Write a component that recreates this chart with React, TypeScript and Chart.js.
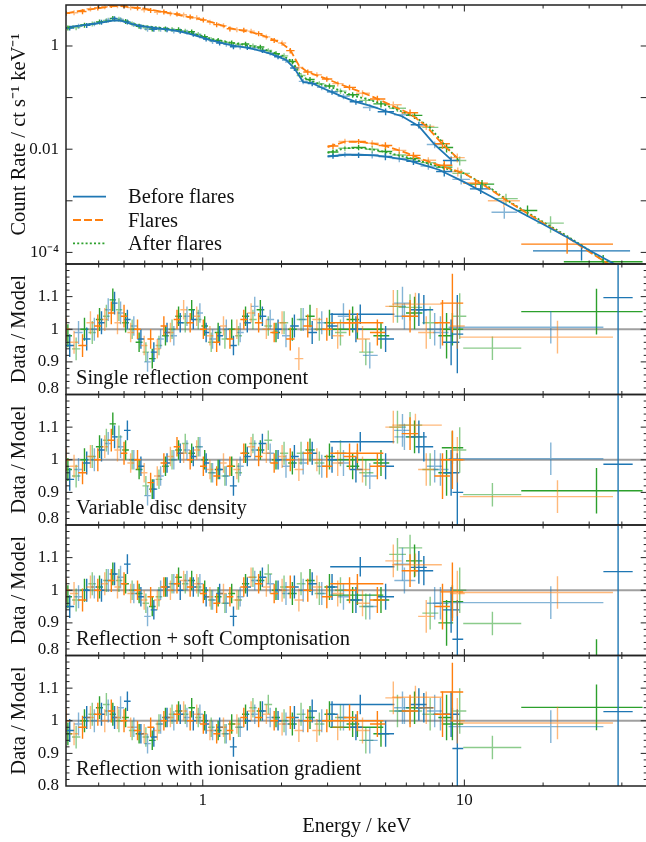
import React, { useEffect, useRef } from "react";
import { Chart, registerables } from "chart.js";
Chart.register(...registerables);

// ---------------- DATA ----------------
// XMM energy grids (keV)
const xmmEnergyBefore = [0.31, 0.335, 0.36, 0.385, 0.41, 0.435, 0.46, 0.485, 0.515, 0.545, 0.58, 0.615, 0.65, 0.69, 0.73, 0.775, 0.82, 0.87, 0.92, 0.975, 1.03, 1.09, 1.16, 1.23, 1.31, 1.39, 1.48, 1.58, 1.69, 1.81, 1.94, 2.08, 2.24, 2.42, 2.62, 2.85, 3.12, 3.45, 3.85, 4.35, 5.0, 5.8, 6.7, 7.7, 8.9];
const xmmEnergyFlares = [0.30, 0.322, 0.347, 0.372, 0.397, 0.422, 0.447, 0.472, 0.50, 0.53, 0.563, 0.597, 0.632, 0.67, 0.71, 0.752, 0.797, 0.845, 0.895, 0.948, 1.005, 1.065, 1.13, 1.2, 1.27, 1.35, 1.435, 1.53, 1.635, 1.75, 1.875, 2.01, 2.16, 2.33, 2.52, 2.73, 2.98, 3.28, 3.64, 4.08, 4.65, 5.35, 6.2, 7.15, 8.25, 9.4];
const xmmEnergyAfter = [0.305, 0.328, 0.353, 0.378, 0.403, 0.428, 0.453, 0.478, 0.507, 0.537, 0.571, 0.606, 0.641, 0.68, 0.72, 0.763, 0.808, 0.857, 0.907, 0.961, 1.017, 1.077, 1.145, 1.215, 1.29, 1.37, 1.457, 1.555, 1.66, 1.78, 1.905, 2.045, 2.2, 2.375, 2.57, 2.79, 3.05, 3.36, 3.74, 4.2, 4.8, 5.55, 6.45, 7.4, 8.55, 9.6];

// XMM model count rates (ct/s/keV)
const xmmModelBefore = [2.35, 2.45, 2.6, 2.7, 2.85, 3.0, 3.15, 3.1, 2.85, 2.6, 2.45, 2.35, 2.27, 2.18, 2.1, 2.0, 1.9, 1.78, 1.65, 1.5, 1.38, 1.27, 1.17, 1.09, 1.02, 0.97, 0.92, 0.86, 0.79, 0.71, 0.62, 0.54, 0.37, 0.2, 0.19, 0.155, 0.128, 0.102, 0.083, 0.07, 0.055, 0.043, 0.028, 0.0123, 0.0063];
const xmmModelFlares = [4.3, 4.6, 4.9, 5.15, 5.4, 5.6, 5.85, 5.95, 5.85, 5.6, 5.45, 5.3, 5.05, 4.8, 4.55, 4.3, 4.05, 3.8, 3.6, 3.4, 3.2, 2.95, 2.7, 2.45, 2.22, 2.08, 1.97, 1.85, 1.7, 1.5, 1.3, 1.12, 0.84, 0.42, 0.31, 0.27, 0.23, 0.19, 0.155, 0.125, 0.095, 0.068, 0.049, 0.028, 0.0125, 0.0068];
const xmmModelAfter = [2.3, 2.42, 2.55, 2.7, 2.85, 3.0, 3.15, 3.15, 2.95, 2.7, 2.52, 2.42, 2.35, 2.27, 2.2, 2.1, 2.0, 1.9, 1.78, 1.63, 1.5, 1.38, 1.3, 1.22, 1.15, 1.1, 1.05, 0.98, 0.9, 0.81, 0.72, 0.63, 0.5, 0.26, 0.215, 0.185, 0.165, 0.135, 0.11, 0.095, 0.077, 0.058, 0.043, 0.026, 0.011, 0.0058];

// XMM data/model ratios: single reflection component
const ratioSingleBefore = [0.95, 0.99, 0.97, 1.0, 1.02, 1.06, 1.08, 1.05, 1.03, 1.01, 0.97, 0.90, 0.93, 0.97, 0.99, 0.98, 1.02, 1.04, 1.03, 1.05, 0.99, 0.97, 0.98, 1.0, 0.95, 0.99, 1.02, 1.07, 1.04, 1.03, 1.0, 0.98, 1.01, 1.03, 0.99, 1.02, 1.01, 1.04, 1.0, 0.92, 0.97, 1.08, 1.06, 1.0, 0.96];
const ratioSingleFlares = [1.0, 0.96, 0.95, 1.02, 1.01, 1.03, 1.05, 1.02, 1.04, 0.99, 1.0, 0.95, 0.97, 0.94, 1.01, 0.99, 1.03, 1.06, 1.02, 1.04, 1.0, 0.98, 0.96, 1.01, 0.97, 1.0, 1.03, 1.05, 1.02, 1.0, 0.99, 1.02, 0.97, 0.91, 1.01, 1.03, 1.0, 0.98, 1.02, 0.97, 0.99, 1.07, 1.04, 0.99, 1.02, 1.01];
const ratioSingleAfter = [0.98, 0.94, 1.0, 0.99, 1.03, 1.04, 1.09, 1.06, 1.02, 1.0, 0.96, 0.93, 0.91, 0.95, 0.98, 1.0, 1.04, 1.02, 1.06, 1.03, 1.01, 0.96, 0.99, 0.97, 1.0, 0.98, 1.04, 1.03, 1.06, 1.01, 0.99, 1.02, 1.0, 1.03, 1.04, 1.0, 1.02, 0.99, 1.03, 0.93, 0.98, 1.07, 1.05, 1.02, 0.98, 1.04];
// variable disc density
const ratioDensityBefore = [0.94, 0.97, 0.99, 1.0, 1.03, 1.05, 1.07, 1.04, 1.09, 1.0, 0.98, 0.89, 0.91, 0.95, 0.99, 1.0, 1.02, 1.03, 1.01, 1.04, 0.99, 0.96, 0.97, 0.95, 0.92, 0.98, 1.01, 1.03, 1.05, 1.02, 1.0, 0.98, 1.01, 0.99, 1.02, 0.98, 1.0, 0.99, 0.97, 0.95, 0.98, 1.09, 1.07, 0.98, 0.96];
const ratioDensityFlares = [1.0, 0.98, 0.96, 1.01, 1.0, 1.04, 1.06, 1.03, 1.02, 0.99, 1.0, 0.96, 0.93, 0.95, 0.99, 1.01, 1.04, 1.02, 1.0, 1.03, 0.98, 0.97, 0.95, 0.99, 0.98, 0.97, 1.02, 1.04, 1.01, 1.02, 0.99, 1.01, 1.0, 0.97, 1.02, 1.0, 0.98, 0.99, 1.01, 0.97, 0.98, 1.1, 1.08, 0.97, 0.95, 1.0];
const ratioDensityAfter = [0.97, 0.95, 1.0, 1.01, 1.04, 1.06, 1.11, 1.07, 1.03, 1.0, 0.97, 0.92, 0.91, 0.94, 0.98, 1.0, 1.03, 1.05, 1.02, 1.04, 1.0, 0.96, 0.97, 0.95, 0.98, 0.96, 1.02, 1.05, 1.03, 1.06, 1.0, 1.02, 0.99, 1.02, 1.03, 0.99, 1.01, 1.02, 0.98, 0.96, 0.99, 1.1, 1.07, 0.97, 0.96, 1.03];
// reflection + soft Comptonisation
const ratioComptBefore = [0.95, 0.98, 1.0, 1.01, 1.0, 1.03, 1.05, 1.04, 1.08, 0.99, 0.98, 0.92, 0.94, 1.0, 1.01, 1.02, 1.0, 1.03, 1.01, 1.02, 0.98, 0.97, 0.99, 0.96, 0.92, 0.98, 1.01, 1.03, 1.04, 1.02, 1.0, 0.99, 1.01, 1.0, 1.02, 0.99, 1.01, 0.98, 0.97, 0.95, 0.98, 1.08, 1.07, 0.96, 0.94];
const ratioComptFlares = [1.0, 0.99, 0.97, 1.01, 1.0, 1.02, 1.03, 1.01, 1.02, 0.99, 1.0, 0.97, 0.98, 0.97, 1.01, 1.0, 1.02, 1.03, 1.01, 1.02, 0.99, 0.98, 0.96, 0.99, 0.98, 0.97, 1.01, 1.04, 1.02, 1.01, 0.99, 1.0, 1.01, 0.97, 1.0, 1.01, 0.98, 0.99, 1.0, 0.96, 0.97, 1.09, 1.06, 0.92, 0.95, 0.99];
const ratioComptAfter = [0.98, 0.97, 1.0, 1.02, 1.01, 1.03, 1.05, 1.03, 1.02, 1.0, 0.99, 0.96, 0.95, 0.98, 1.01, 1.02, 1.04, 1.02, 1.03, 1.01, 1.0, 0.97, 0.98, 0.96, 0.99, 0.97, 1.02, 1.04, 1.03, 1.05, 1.0, 1.01, 0.99, 1.02, 1.03, 0.99, 1.01, 1.0, 0.97, 0.95, 0.97, 1.11, 1.09, 0.93, 0.9, 1.0];
// reflection with ionisation gradient
const ratioGradBefore = [0.97, 0.99, 1.01, 1.0, 1.02, 1.03, 1.01, 1.04, 1.06, 0.98, 0.96, 0.93, 0.95, 0.99, 1.01, 1.0, 1.02, 1.01, 1.0, 1.02, 0.99, 0.97, 0.98, 0.96, 0.92, 0.98, 1.0, 1.02, 1.03, 1.01, 1.0, 0.99, 1.01, 1.0, 1.03, 1.0, 1.02, 1.01, 0.98, 0.94, 0.96, 1.04, 1.05, 1.03, 1.02];
const ratioGradFlares = [1.0, 0.96, 0.98, 1.01, 1.02, 1.0, 1.03, 1.01, 1.0, 0.98, 0.97, 0.96, 0.98, 0.97, 1.0, 1.01, 1.02, 1.03, 1.0, 1.02, 0.99, 0.97, 0.96, 0.98, 0.97, 0.99, 1.01, 1.03, 1.01, 1.02, 1.0, 0.99, 1.01, 0.97, 1.0, 0.97, 1.0, 0.98, 1.01, 0.97, 0.99, 1.07, 1.03, 1.04, 1.02, 1.0];
const ratioGradAfter = [0.96, 0.95, 1.0, 1.02, 1.04, 1.05, 1.02, 1.0, 1.01, 0.97, 0.96, 0.95, 0.94, 0.99, 1.01, 1.02, 1.03, 1.02, 1.04, 1.01, 1.0, 0.98, 0.97, 0.96, 0.99, 0.98, 1.02, 1.04, 1.03, 1.05, 1.01, 1.0, 0.99, 1.02, 1.01, 0.99, 1.02, 1.01, 0.99, 0.94, 0.96, 1.03, 1.04, 1.02, 1.01, 1.03];

// fractional errors by energy band
const ratioErrBandTop = [0.5, 1, 2, 3, 5, 8, 12];
const ratioErrBand = [0.035, 0.03, 0.03, 0.035, 0.04, 0.05, 0.07];
const countErrBandTop = [1, 2, 4, 8, 12, 20, 60];
const countErrBand = [0.11, 0.11, 0.12, 0.15, 0.2, 0.25, 0.35];

// NuSTAR bins in the ratio panels (lo, centre, hi in keV), errors, and ratios per model
const nuLoBefore = [3.07, 5.4, 6.5, 7.6, 9.0, 8.7, 34];
const nuMidBefore = [4.0, 5.9, 7.0, 8.1, 9.4, 21.4, 38.7];
const nuHiBefore = [5.4, 6.5, 7.6, 8.7, 9.9, 34, 44];
const nuErrBefore = [0.03, 0.04, 0.045, 0.05, 0.12, 0.05, 0.6];
const nuSingleBefore = [1.046, 1.04, 1.06, 0.99, 0.985, 1.006, 1.097];
const nuDensityBefore = [1.055, 1.07, 1.04, 0.97, 0.9, 1.003, 0.986];
const nuComptBefore = [1.072, 1.03, 1.06, 0.96, 0.85, 0.962, 1.057];
const nuGradBefore = [1.05, 1.03, 1.04, 1.02, 0.915, 0.982, 1.028];

const nuLoFlares = [3.07, 5.3, 8.1, 9.6];
const nuMidFlares = [3.9, 6.5, 9.0, 22.7];
const nuHiFlares = [4.9, 8.2, 9.9, 37];
const nuErrFlares = [0.03, 0.035, 0.09, 0.05];
const nuSingleFlares = [1.02, 1.077, 1.08, 0.976];
const nuDensityFlares = [1.02, 1.106, 1.0, 0.887];
const nuComptFlares = [1.02, 1.078, 0.995, 0.993];
const nuGradFlares = [1.0, 1.072, 1.088, 0.993];

const nuLoAfter = [3.07, 5.6, 8.2, 9.9, 16.5];
const nuMidAfter = [3.9, 6.2, 9.0, 12.8, 32];
const nuHiAfter = [4.9, 6.9, 9.9, 16.5, 48];
const nuErrAfter = [0.03, 0.04, 0.05, 0.036, 0.07];
const nuSingleAfter = [1.0, 1.067, 1.0, 0.942, 1.054];
const nuDensityAfter = [1.0, 1.106, 1.037, 0.893, 0.905];
const nuComptAfter = [0.985, 1.13, 0.965, 0.898, 0.78];
const nuGradAfter = [0.98, 1.03, 0.99, 0.918, 1.041];

// NuSTAR spectra in the top panel (bin lo, hi in keV; count rate)
const nuTopLoBefore = [3.0, 3.3, 3.7, 4.2, 4.7, 5.3, 6.0, 6.8, 7.8, 9.0, 10.5, 12.7, 18.3];
const nuTopHiBefore = [3.3, 3.7, 4.2, 4.7, 5.3, 6.0, 6.8, 7.8, 9.0, 10.5, 12.7, 15.9, 43];
const nuTopRateBefore = [0.0074, 0.0079, 0.0077, 0.0078, 0.0072, 0.0066, 0.0058, 0.0047, 0.0037, 0.0026, 0.0017, 0.0006, 0.000107];
const nuTopLoFlares = [3.0, 3.3, 3.7, 4.2, 4.7, 5.3, 6.0, 6.8, 7.8, 9.0, 9.9, 12.3, 16.5];
const nuTopHiFlares = [3.3, 3.7, 4.2, 4.7, 5.3, 6.0, 6.8, 7.8, 9.0, 9.9, 12.3, 16.3, 37];
const nuTopRateFlares = [0.0115, 0.0142, 0.0141, 0.013, 0.0118, 0.0095, 0.0076, 0.0061, 0.0049, 0.0037, 0.0022, 0.001, 0.000145];
const nuTopLoAfter = [3.0, 3.3, 3.7, 4.2, 4.7, 5.3, 6.0, 6.8, 7.8, 9.0, 10.5, 13, 16, 19, 24];
const nuTopHiAfter = [3.3, 3.7, 4.2, 4.7, 5.3, 6.0, 6.8, 7.8, 9.0, 10.5, 13, 16, 19, 24, 48];
const nuTopRateAfter = [0.0088, 0.0104, 0.0108, 0.01, 0.009, 0.0077, 0.0066, 0.0055, 0.0045, 0.0034, 0.0021, 0.0011, 0.00065, 0.00037, 0.000066];

// NuSTAR model curves
const nuModelEnergy = [3.0, 3.5, 4.0, 4.5, 5.0, 6.0, 7.0, 8.0, 10, 12.5, 15, 20, 25, 30, 35, 40];
const nuModelBefore = [0.0072, 0.0078, 0.0078, 0.0076, 0.0072, 0.0062, 0.0049, 0.004, 0.0023, 0.00125, 0.00076, 0.00035, 0.00019, 0.00011, 0.000072, 0.00005];
const nuModelFlares = [0.011, 0.014, 0.0138, 0.0128, 0.0115, 0.0085, 0.0062, 0.0049, 0.0034, 0.0017, 0.00091, 0.00037, 0.00019, 0.000103, 0.000063, 0.00004];
const nuModelAfter = [0.0085, 0.0105, 0.0106, 0.0098, 0.0088, 0.007, 0.0056, 0.0046, 0.0034, 0.0018, 0.00093, 0.00039, 0.0002, 0.00011, 0.000062, 0.00004];

// axes ticks / labels
const energyTicks = [1, 10];
const energyTickLabels = ["1", "10"];
const energyMinorTicks = [0.4, 0.5, 0.6, 0.7, 0.8, 0.9, 2, 3, 4, 5, 6, 7, 8, 9, 20, 30, 40];
const countTicks = [1e-4, 1e-3, 1e-2, 1e-1, 1];
const countTickLabels = ["10⁻⁴", "", "0.01", "", "1"];
const ratioTicks = [0.8, 0.9, 1.0, 1.1, 1.2];
const ratioTickLabels = ["0.8", "0.9", "1", "1.1", ""];
const legendLabels = ["Before flares", "Flares", "After flares"];
const panelLabels = ["Single reflection component", "Variable disc density", "Reflection + soft Comptonisation", "Reflection with ionisation gradient"];

// ---------------- STYLE / LAYOUT ----------------
const CANVAS_W = 648;
const CANVAS_H = 842;
const AREA_LEFT = 66;
const AREA_RIGHT = 647.2;
const PANEL_TOP = [5, 264, 394.5, 525, 655.5];
const PANEL_BOTTOM = [264, 394.5, 525, 655.5, 786];
const FONT = '"Liberation Serif", "Times New Roman", Times, serif';
const TEXT = "#111";
const FRAME = "#222";
const LABEL_SIZE = 20.5;

const series = [
  {
    color: "#1f77b4", light: "rgba(31,119,180,0.55)", dash: [] as number[],
    xmmE: xmmEnergyBefore, xmmModel: xmmModelBefore,
    ratios: [ratioSingleBefore, ratioDensityBefore, ratioComptBefore, ratioGradBefore],
    nuLo: nuLoBefore, nuMid: nuMidBefore, nuHi: nuHiBefore, nuErr: nuErrBefore,
    nuRatios: [nuSingleBefore, nuDensityBefore, nuComptBefore, nuGradBefore],
    topLo: nuTopLoBefore, topHi: nuTopHiBefore, topRate: nuTopRateBefore, nuModel: nuModelBefore,
  },
  {
    color: "#ff7f0e", light: "rgba(255,127,14,0.55)", dash: [8, 3],
    xmmE: xmmEnergyFlares, xmmModel: xmmModelFlares,
    ratios: [ratioSingleFlares, ratioDensityFlares, ratioComptFlares, ratioGradFlares],
    nuLo: nuLoFlares, nuMid: nuMidFlares, nuHi: nuHiFlares, nuErr: nuErrFlares,
    nuRatios: [nuSingleFlares, nuDensityFlares, nuComptFlares, nuGradFlares],
    topLo: nuTopLoFlares, topHi: nuTopHiFlares, topRate: nuTopRateFlares, nuModel: nuModelFlares,
  },
  {
    color: "#2ca02c", light: "rgba(44,160,44,0.55)", dash: [2, 2.2],
    xmmE: xmmEnergyAfter, xmmModel: xmmModelAfter,
    ratios: [ratioSingleAfter, ratioDensityAfter, ratioComptAfter, ratioGradAfter],
    nuLo: nuLoAfter, nuMid: nuMidAfter, nuHi: nuHiAfter, nuErr: nuErrAfter,
    nuRatios: [nuSingleAfter, nuDensityAfter, nuComptAfter, nuGradAfter],
    topLo: nuTopLoAfter, topHi: nuTopHiAfter, topRate: nuTopRateAfter, nuModel: nuModelAfter,
  },
];

type Pt = { x: number; y: number; xl: number; xh: number; yl: number; yh: number; light: boolean };

function bandErr(e: number, edges: number[], values: number[]) {
  for (let i = 0; i < edges.length; i++) if (e <= edges[i]) return values[i];
  return values[values.length - 1];
}

function binEdges(E: number[]) {
  return E.map((e, i) => {
    const prev = i > 0 ? E[i - 1] : (e * e) / E[i + 1];
    const next = i < E.length - 1 ? E[i + 1] : (e * e) / E[i - 1];
    return [Math.sqrt(prev * e), Math.sqrt(e * next)];
  });
}

function topDatasets() {
  const models: any[] = [];
  const data: any[] = [];
  series.forEach((s) => {
    models.push({
      data: s.xmmE.map((e, i) => ({ x: e, y: s.xmmModel[i] })),
      showLine: true, pointRadius: 0, borderColor: s.color, borderWidth: 1.8, borderDash: s.dash,
    });
    models.push({
      data: nuModelEnergy.map((e, i) => ({ x: e, y: s.nuModel[i] })),
      showLine: true, pointRadius: 0, borderColor: s.color, borderWidth: 1.8, borderDash: s.dash,
    });
  });
  const order = [1, 0, 2];
  order.forEach((k) => {
    const s = series[k];
    const edges = binEdges(s.xmmE);
    const pts: Pt[] = [];
    s.xmmE.forEach((e, i) => {
      const y = s.xmmModel[i] * s.ratios[0][i];
      const f = bandErr(e, countErrBandTop, countErrBand);
      pts.push({ x: e, y, xl: edges[i][0], xh: edges[i][1], yl: y * (1 - f), yh: y * (1 + f), light: i % 2 === 1 });
    });
    s.topLo.forEach((lo, i) => {
      const hi = s.topHi[i];
      const e = Math.sqrt(lo * hi);
      const y = s.topRate[i];
      const f = bandErr(e, countErrBandTop, countErrBand);
      pts.push({ x: e, y, xl: lo, xh: hi, yl: y * (1 - f), yh: y * (1 + f), light: i % 2 === 1 });
    });
    data.push({ data: pts, errorBars: true, color: s.color, lightColor: s.light, pointRadius: 0, showLine: false });
  });
  return [...models, ...data];
}

function ratioDatasets(m: number) {
  const out: any[] = [];
  const order = [1, 0, 2];
  order.forEach((k) => {
    const s = series[k];
    const edges = binEdges(s.xmmE);
    const pts: Pt[] = [];
    s.xmmE.forEach((e, i) => {
      const r = s.ratios[m][i];
      const f = bandErr(e, ratioErrBandTop, ratioErrBand);
      pts.push({ x: e, y: r, xl: edges[i][0], xh: edges[i][1], yl: r - f, yh: r + f, light: i % 2 === 1 });
    });
    s.nuMid.forEach((e, i) => {
      const r = s.nuRatios[m][i];
      pts.push({ x: e, y: r, xl: s.nuLo[i], xh: s.nuHi[i], yl: r - s.nuErr[i], yh: r + s.nuErr[i], light: i % 2 === 1 });
    });
    out.push({ data: pts, errorBars: true, color: s.color, lightColor: s.light, pointRadius: 0, showLine: false });
  });
  return out;
}

function drawBars(chart: any, ds: any) {
  const { ctx, chartArea: a, scales } = chart;
  const x = scales.x, y = scales.y;
  ctx.save();
  ctx.beginPath();
  ctx.rect(a.left, a.top, a.right - a.left, a.bottom - a.top);
  ctx.clip();
  ctx.lineWidth = 1.4;
  for (const p of ds.data as Pt[]) {
    const px = x.getPixelForValue(p.x);
    const py = y.getPixelForValue(p.y);
    ctx.strokeStyle = p.light ? ds.lightColor : ds.color;
    ctx.beginPath();
    ctx.moveTo(x.getPixelForValue(p.xl), py);
    ctx.lineTo(x.getPixelForValue(p.xh), py);
    ctx.moveTo(px, y.getPixelForValue(p.yl));
    ctx.lineTo(px, y.getPixelForValue(p.yh));
    ctx.stroke();
  }
  ctx.restore();
}

function drawFrame(chart: any, p: number) {
  const { ctx, chartArea: a, scales } = chart;
  const x = scales.x, y = scales.y;
  ctx.save();
  ctx.strokeStyle = FRAME;
  ctx.lineWidth = 1;
  const tickX = (v: number, len: number) => {
    const px = x.getPixelForValue(v);
    if (px <= a.left + 1 || px >= a.right - 1) return;
    ctx.beginPath();
    ctx.moveTo(px, a.bottom); ctx.lineTo(px, a.bottom - len);
    ctx.moveTo(px, a.top); ctx.lineTo(px, a.top + len);
    ctx.stroke();
  };
  const tickY = (v: number, len: number) => {
    const py = y.getPixelForValue(v);
    if (py <= a.top + 1 || py >= a.bottom - 1) return;
    ctx.beginPath();
    ctx.moveTo(a.left, py); ctx.lineTo(a.left + len, py);
    ctx.moveTo(a.right, py); ctx.lineTo(a.right - len, py);
    ctx.stroke();
  };
  energyTicks.forEach((v) => tickX(v, 6.5));
  energyMinorTicks.forEach((v) => tickX(v, 3.5));
  if (p === 0) {
    countTicks.forEach((v) => tickY(v, 6.5));
  } else {
    ratioTicks.forEach((v) => tickY(v, 6.5));
    for (let k = 41; k < 60; k++) {
      const v = k / 50;
      if (k % 5 !== 0) tickY(v, 3.5);
    }
  }
  ctx.lineWidth = 1.5;
  ctx.strokeRect(a.left, a.top, a.right - a.left, a.bottom - a.top);
  ctx.restore();
}

function drawLegend(chart: any) {
  const { ctx, chartArea: a } = chart;
  ctx.save();
  ctx.font = `${LABEL_SIZE}px ${FONT}`;
  ctx.fillStyle = TEXT;
  ctx.textBaseline = "alphabetic";
  series.forEach((s, i) => {
    const yLine = a.top + 191.7 + i * 23.3;
    ctx.strokeStyle = s.color;
    ctx.lineWidth = 1.8;
    ctx.setLineDash(s.dash);
    ctx.beginPath();
    ctx.moveTo(a.left + 7, yLine);
    ctx.lineTo(a.left + 40, yLine);
    ctx.stroke();
    ctx.setLineDash([]);
    ctx.fillText(legendLabels[i], a.left + 62, yLine + 6.6);
  });
  ctx.restore();
}

function drawPanelLabel(chart: any, text: string) {
  const { ctx, chartArea: a } = chart;
  ctx.save();
  ctx.font = `${LABEL_SIZE}px ${FONT}`;
  ctx.fillStyle = TEXT;
  ctx.textBaseline = "alphabetic";
  ctx.fillText(text, a.left + 10, a.bottom - 11);
  ctx.restore();
}

function makeDecor(p: number) {
  return {
    id: "decor" + p,
    beforeDatasetsDraw(chart: any) {
      if (p === 0) return;
      const { ctx, chartArea: a, scales } = chart;
      const py = scales.y.getPixelForValue(1);
      ctx.save();
      ctx.strokeStyle = "#a0a0a0";
      ctx.lineWidth = 2;
      ctx.beginPath();
      ctx.moveTo(a.left, py);
      ctx.lineTo(a.right, py);
      ctx.stroke();
      ctx.restore();
    },
    afterDatasetDraw(chart: any, args: any) {
      const ds = chart.data.datasets[args.index];
      if (ds && ds.errorBars) drawBars(chart, ds);
    },
    afterDraw(chart: any) {
      drawFrame(chart, p);
      if (p === 0) drawLegend(chart);
      else drawPanelLabel(chart, panelLabels[p - 1]);
    },
  };
}

function buildConfig(p: number): any {
  const isTop = p === 0;
  const isBottom = p === 4;
  const top = PANEL_TOP[p];
  const bottom = PANEL_BOTTOM[p];
  const tickFont = { family: FONT, size: 17 };
  const titleFont = { family: FONT, size: LABEL_SIZE };
  const yScale = isTop
    ? {
        type: "logarithmic", min: 5.96e-5, max: 6.23,
        grid: { display: false, drawTicks: false }, border: { display: false },
        afterBuildTicks: (s: any) => { s.ticks = countTicks.map((v) => ({ value: v })); },
        ticks: { autoSkip: false, padding: 7, color: TEXT, font: tickFont, callback: (_v: any, i: number) => countTickLabels[i] },
        title: { display: true, text: "Count Rate / ct s⁻¹ keV⁻¹", color: TEXT, font: titleFont, padding: { top: 7, bottom: 0 } },
        afterFit: (s: any) => { s.width = AREA_LEFT; s.paddingTop = 0; s.paddingBottom = 0; },
      }
    : {
        type: "linear", min: 0.8, max: 1.2,
        grid: { display: false, drawTicks: false }, border: { display: false },
        afterBuildTicks: (s: any) => { s.ticks = ratioTicks.map((v) => ({ value: v })); },
        ticks: {
          autoSkip: false, padding: 7, color: TEXT,
          font: { family: FONT, size: 17, lineHeight: 0.72 },
          callback: (_v: any, i: number) => (i === 0 && !isBottom ? [ratioTickLabels[i], ""] : ratioTickLabels[i]),
        },
        title: { display: true, text: "Data / Model", color: TEXT, font: titleFont, padding: { top: 7, bottom: 0 } },
        afterFit: (s: any) => { s.width = AREA_LEFT; s.paddingTop = 0; s.paddingBottom = 0; },
      };
  return {
    type: "scatter",
    data: { datasets: isTop ? topDatasets() : ratioDatasets(p - 1) },
    options: {
      animation: false,
      responsive: false,
      maintainAspectRatio: false,
      devicePixelRatio: 1,
      events: [],
      layout: { padding: { left: 0, right: CANVAS_W - AREA_RIGHT, top, bottom: isBottom ? 0 : CANVAS_H - bottom } },
      plugins: { legend: { display: false }, tooltip: { enabled: false } },
      scales: {
        x: {
          type: "logarithmic", min: 0.3, max: 50, display: isBottom,
          grid: { display: false, drawTicks: false }, border: { display: false },
          afterBuildTicks: (s: any) => { s.ticks = energyTicks.map((v) => ({ value: v })); },
          ticks: { autoSkip: false, maxRotation: 0, padding: 4, color: TEXT, font: tickFont, callback: (_v: any, i: number) => energyTickLabels[i] },
          title: { display: isBottom, text: "Energy / keV", color: TEXT, font: titleFont, padding: { top: 0, bottom: 3 } },
          afterFit: (s: any) => { s.height = isBottom ? CANVAS_H - bottom : 0; s.paddingLeft = 0; s.paddingRight = 0; },
        },
        y: yScale,
      },
    },
    plugins: [makeDecor(p)],
  };
}

function Panel({ index }: { index: number }) {
  const ref = useRef<HTMLCanvasElement>(null);
  useEffect(() => {
    if (!ref.current) return;
    const chart = new Chart(ref.current, buildConfig(index));
    return () => chart.destroy();
  }, [index]);
  return (
    <canvas
      ref={ref}
      width={CANVAS_W}
      height={CANVAS_H}
      style={{ position: "absolute", left: 0, top: 0, width: CANVAS_W, height: CANVAS_H }}
    />
  );
}

export default function App() {
  return (
    <div style={{ position: "absolute", left: 0, top: 0, width: 646, height: 842, overflow: "hidden", background: "#fff" }}>
      {[0, 1, 2, 3, 4].map((i) => (
        <Panel key={i} index={i} />
      ))}
    </div>
  );
}
